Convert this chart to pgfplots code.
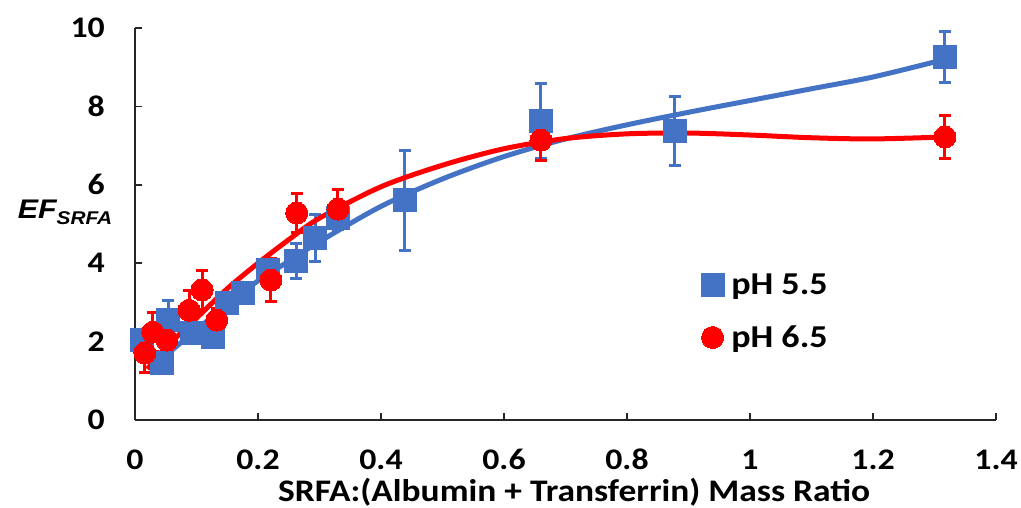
\documentclass[border=0pt]{standalone}
\usepackage{fontspec}
\setmainfont{Carlito}[FakeStretch=1.13]
\newfontfamily\arialfont{Liberation Sans}[FakeStretch=1.13]
\usepackage{pgfplots}
\usepackage{pgfplotstable}
\pgfplotsset{compat=1.18}
\definecolor{myblue}{HTML}{4472C4}
\definecolor{myred}{HTML}{FF0000}

\pgfplotstableread{
x y e
0.011 2.04 0.2
0.044 1.45 0.25
0.054 2.55 0.5
0.093 2.22 0.2
0.127 2.12 0.25
0.150 2.98 0.2
0.176 3.24 0.25
0.216 3.83 0.25
0.262 4.06 0.45
0.293 4.64 0.6
0.330 5.15 0.3
0.439 5.60 1.28
0.660 7.63 0.95
0.878 7.37 0.88
1.317 9.26 0.65
}\bluedata

\pgfplotstableread{
x y e
0.016 1.71 0.5
0.029 2.24 0.5
0.052 2.04 0.3
0.088 2.80 0.5
0.109 3.32 0.5
0.133 2.55 0.3
0.221 3.57 0.55
0.263 5.28 0.5
0.330 5.38 0.5
0.660 7.14 0.52
1.317 7.22 0.54
}\reddata

\begin{document}
\begin{tikzpicture}
\path[use as bounding box] (-135bp,-88bp) rectangle (886bp,420bp);
\begin{axis}[
  scale only axis, width=861bp, height=392bp,
  xmin=0, xmax=1.4, ymin=0, ymax=10,
  axis x line*=bottom, axis y line*=left,
  axis line style={line width=1.5bp, black!85},
  xtick={0,0.2,0.4,0.6,0.8,1,1.2,1.4}, ytick={0,2,4,6,8,10},
  tick align=inside, major tick length=7bp,
  tick style={line width=1.5bp, black!85},
  /pgf/number format/assume math mode=true,
  ticklabel style={font=\fontsize{30}{36}\selectfont\bfseries},
  xticklabel style={anchor=base, inner sep=0pt, yshift=-49bp},
  yticklabel style={anchor=east, inner sep=0pt, xshift=-30bp},
  xlabel={SRFA:(Albumin + Transferrin) Mass Ratio},
  xlabel style={font=\fontsize{31.5}{38}\selectfont\bfseries, inner sep=0pt, at={(axis description cs:0.51,0)}, anchor=base, yshift=-81.5bp},
  clip=false,
  legend style={draw=none, fill=none, at={(rel axis cs:0.657,0.277)}, anchor=west,
    row sep=26bp, font=\fontsize{32}{37}\selectfont\bfseries, inner sep=0pt,
    nodes={inner sep=2bp}},
  legend cell align=left,
  legend image code/.code={\draw[#1] plot coordinates {(0bp,0bp)}; \path (-11.5bp,0bp) (16.5bp,0bp);},
]
\addplot[only marks, mark=square*, mark size=11.5bp, color=myblue,
  mark options={line width=0pt, draw=myblue, fill=myblue},
  error bars/.cd, y dir=both, y explicit,
  error bar style={line width=3bp, myblue},
  error mark options={rotate=90, mark size=6bp, line width=3bp, myblue}]
  table[x=x, y=y, y error=e] {\bluedata};
\addlegendentry{pH 5.5}
\addplot[forget plot, myblue, line width=5bp, smooth, no marks] coordinates {
(0.025,1.3) (0.05,1.65) (0.1,2.3) (0.15,2.95) (0.2,3.55) (0.25,4.05) (0.3,4.55)
(0.4,5.45) (0.5,6.15) (0.6,6.72) (0.7,7.17) (0.8,7.53) (0.9,7.85) (1.0,8.15)
(1.1,8.45) (1.2,8.75) (1.317,9.2)};
\addplot[only marks, mark=*, mark size=11bp, color=myred,
  mark options={line width=0pt, draw=myred, fill=myred},
  error bars/.cd, y dir=both, y explicit,
  error bar style={line width=3bp, myred},
  error mark options={rotate=90, mark size=6bp, line width=3bp, myred}]
  table[x=x, y=y, y error=e] {\reddata};
\addlegendentry{pH 6.5}
\addplot[forget plot, myred, line width=5bp, smooth, no marks] coordinates {
(0.02,1.3) (0.05,1.85) (0.1,2.6) (0.15,3.35) (0.2,4.0) (0.25,4.6) (0.3,5.15)
(0.4,5.95) (0.5,6.5) (0.6,6.92) (0.7,7.18) (0.8,7.3) (0.9,7.32) (1.0,7.27)
(1.1,7.2) (1.2,7.17) (1.317,7.22)};
\node at (rel axis cs:0,0.531) [xshift=-70bp] {\arialfont\bfseries\itshape\fontsize{27}{32}\selectfont EF\raisebox{-6bp}{\fontsize{18.5}{20}\selectfont SRFA}};
\end{axis}
\end{tikzpicture}
\end{document}
